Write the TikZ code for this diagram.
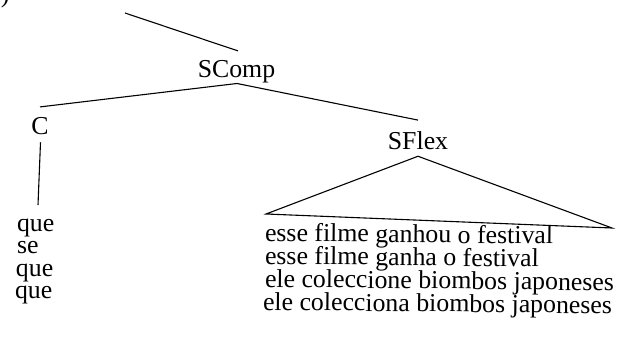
\documentclass[tikz,border=0pt]{standalone}
\usepackage{fontspec}
\setmainfont{Liberation Serif}
\begin{document}
\begin{tikzpicture}[x=1pt,y=-1pt,
  lbl/.style={inner sep=0pt,outer sep=0pt,font=\fontsize{25.8}{26}\selectfont},
  txt/.style={inner sep=0pt,outer sep=0pt,anchor=base west,text height=14pt,text depth=3pt,font=\fontsize{25.8}{26}\selectfont},
  rtxt/.style={txt,rotate=-0.6},
  edge/.style={line width=1.1pt}]
\clip (0,0) rectangle (617,355);
\fill[white] (0,0) rectangle (617,355);
% fragment of the cut-off label
\node[lbl,anchor=base west] (frag) at (1,3) {)};
% tree labels
\node[lbl,anchor=base] (scomp) at (236.5,78) {SComp};
\node[lbl,anchor=base] (c) at (40,135) {C};
\node[lbl,anchor=base] (sflex) at (418,150) {SFlex};
% left words
\node[txt] (q1) at (17,231) {que};
\node[txt] (q2) at (17,253) {se};
\node[txt] (q3) at (16,276) {que};
\node[txt] (q4) at (15,298) {que};
% right sentences
\node[rtxt] (s1) at (265,241) {esse filme ganhou o festival};
\node[rtxt] (s2) at (265,264) {esse filme ganha o festival};
\node[rtxt] (s3) at (265,287) {ele coleccione biombos japoneses};
\node[rtxt] (s4) at (263,310) {ele colecciona biombos japoneses};
% free ends
\coordinate (topstart) at (125,13);
\coordinate (cend) at (38,205);
\coordinate (triL) at (266,214);
\coordinate (triR) at (612,228);
% connectors
\draw[edge] (topstart) -- ([xshift=1.5pt,yshift=10pt]scomp.north);
\draw[edge] ([xshift=0.5pt]scomp.south) -- ([yshift=11pt]c.north);
\draw[edge] ([xshift=0.5pt]scomp.south) -- ([yshift=12pt]sflex.north);
\draw[edge] ([xshift=0.5pt,yshift=-7pt]c.south) -- (cend);
\draw[edge,line join=miter] ([yshift=-6pt]sflex.south) -- (triL) -- (triR) -- cycle;
\end{tikzpicture}
\end{document}
